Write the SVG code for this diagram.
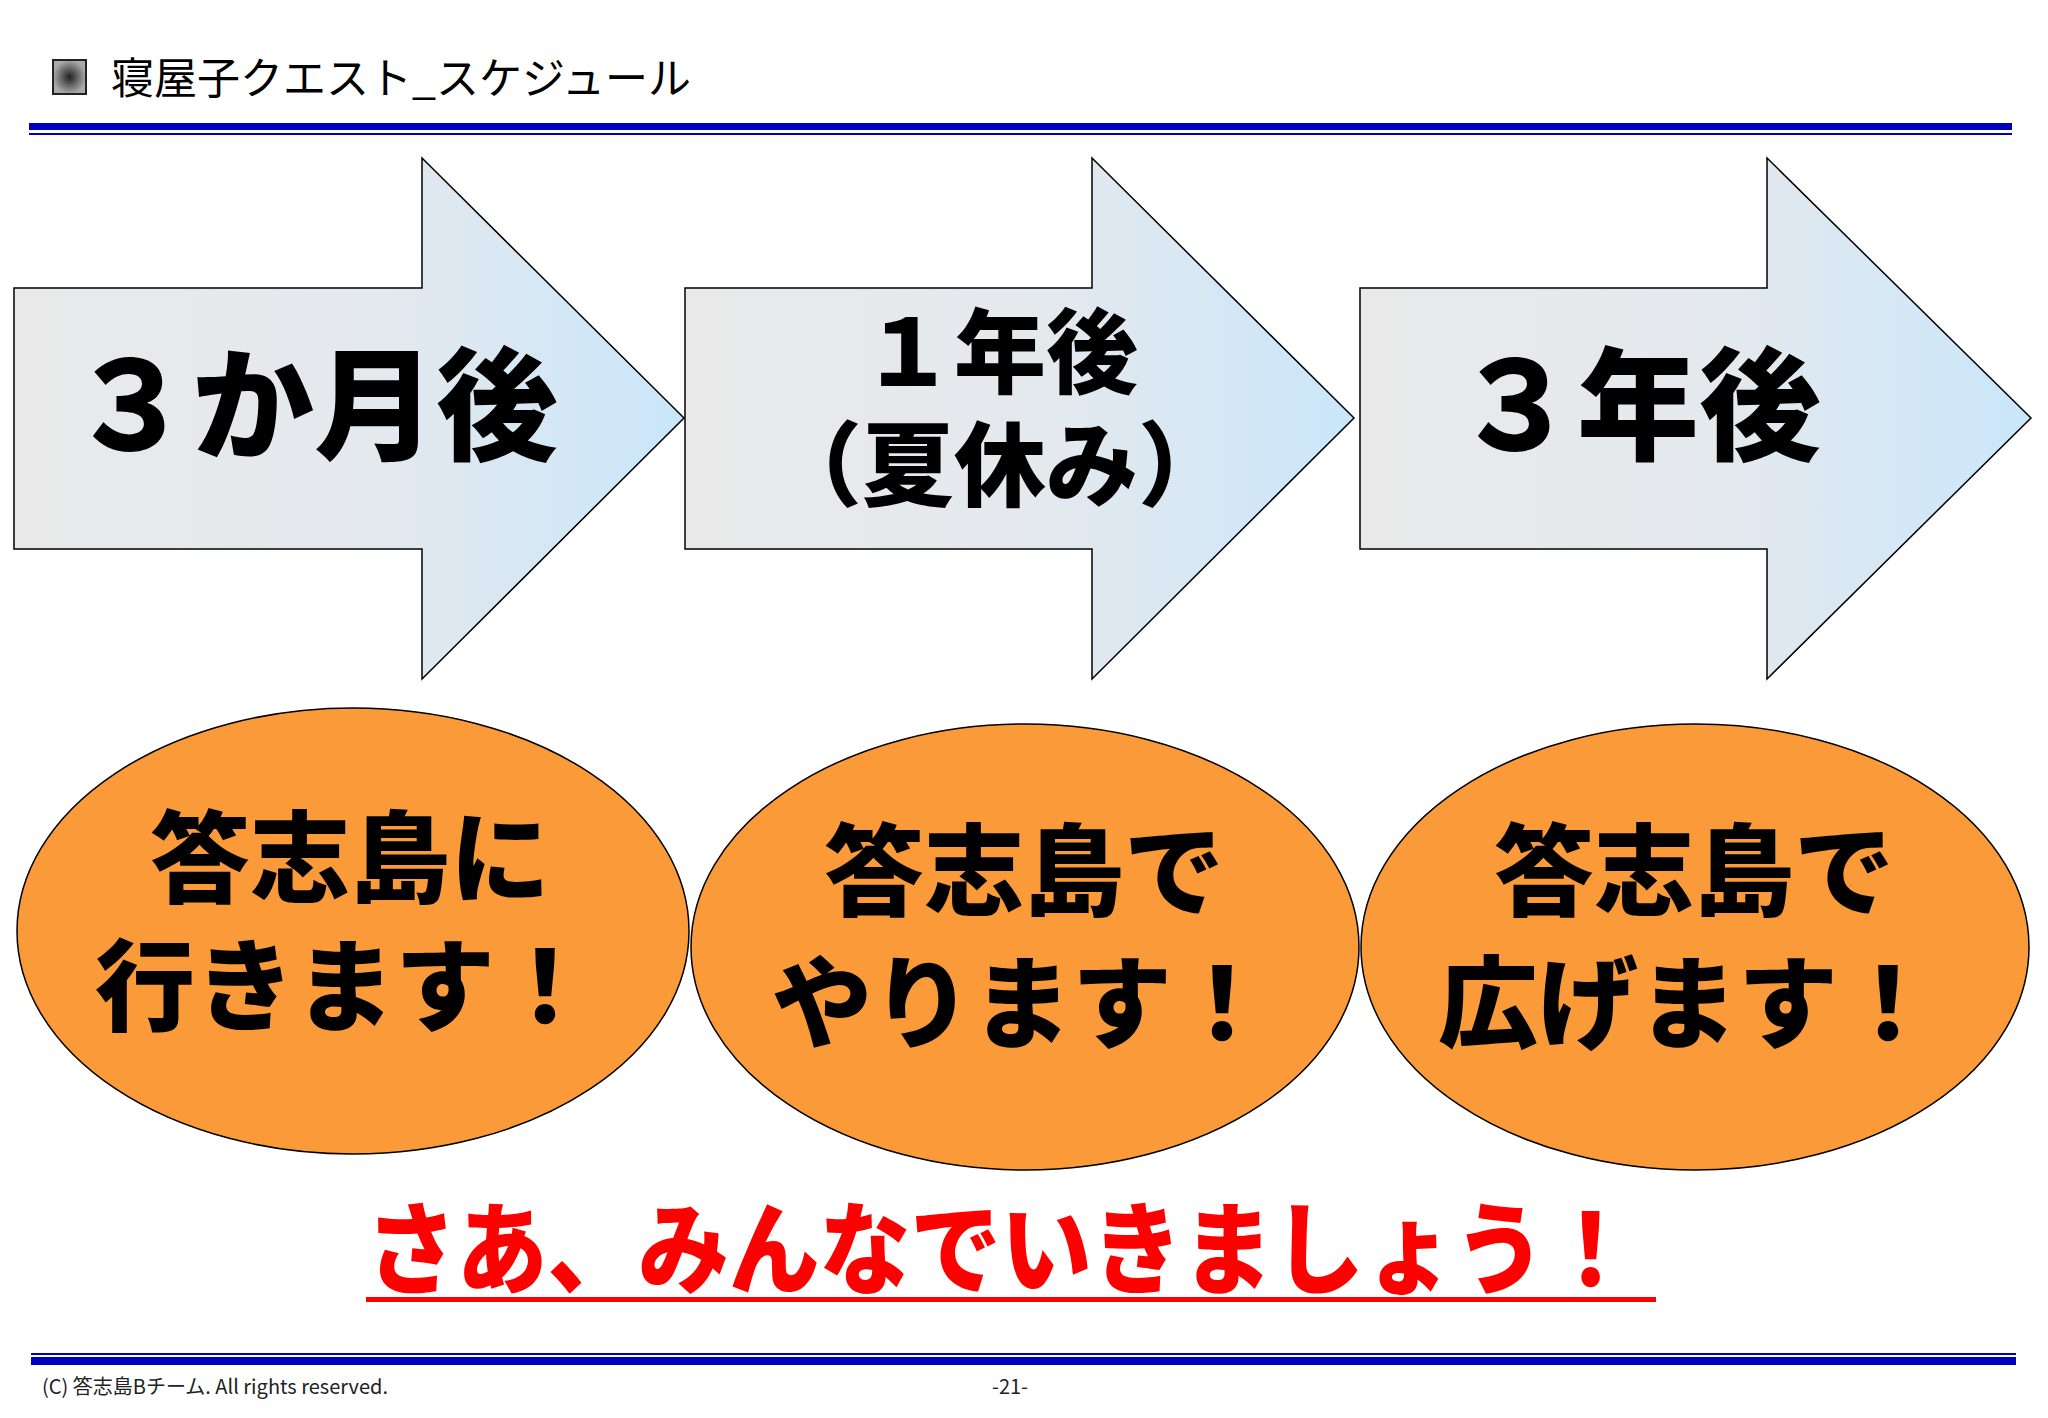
<svg xmlns="http://www.w3.org/2000/svg" width="2048" height="1418" viewBox="0 0 2048 1418">
<style>
.jp{font-family:"Noto Sans CJK JP","Liberation Sans",sans-serif}
.big{font-weight:900;fill:#000;text-anchor:middle}
.arr{stroke:#000;stroke-width:1.5}
.ell{fill:#fb9a38;stroke:#000;stroke-width:1.5}
</style>
<defs>
<linearGradient id="g" x1="0" y1="0" x2="1" y2="0">
<stop offset="0" stop-color="#e9e9e9"/><stop offset="0.55" stop-color="#e4e9ee"/><stop offset="1" stop-color="#c9e6fa"/>
</linearGradient>
<radialGradient id="sq"><stop offset="0" stop-color="#222"/><stop offset="1" stop-color="#aaa"/></radialGradient>
</defs>
<rect width="2048" height="1418" fill="#fff"/>
<g id="header">
<rect x="53" y="60" width="33" height="34" fill="url(#sq)" stroke="#222" stroke-width="2"/>
<text x="111" y="94" class="jp" font-size="43">寝屋子クエスト_スケジュール</text>
<rect x="29" y="123" width="1983" height="7" fill="#0000c0"/>
<rect x="29" y="133" width="1983" height="2" fill="#0000c0"/>
</g>
<g id="arrow1"><polygon class="arr" fill="url(#g)" points="14,288 422,288 422,158 684,418 422,679 422,549 14,549"/>
<text x="314" y="450" class="jp big" font-size="122">３か月後</text></g>
<g id="arrow2"><polygon class="arr" fill="url(#g)" points="685,288 1092,288 1092,158 1354,418 1092,679 1092,549 685,549"/>
<text x="1000" y="386" class="jp big" font-size="92">１年後</text>
<text x="1000" y="499" class="jp big" font-size="92">（夏休み）</text></g>
<g id="arrow3"><polygon class="arr" fill="url(#g)" points="1360,288 1767,288 1767,158 2031,418 1767,679 1767,549 1360,549"/>
<text x="1638" y="450" class="jp big" font-size="122">３年後</text></g>
<g id="goal1"><ellipse class="ell" cx="353" cy="931" rx="336" ry="223"/>
<text x="350" y="895" class="jp big" font-size="100">答志島に</text>
<text x="345" y="1023" class="jp big" font-size="100">行きます！</text></g>
<g id="goal2"><ellipse class="ell" cx="1025" cy="947" rx="334" ry="223"/>
<text x="1024" y="908" class="jp big" font-size="100">答志島で</text>
<text x="1022" y="1040" class="jp big" font-size="100">やります！</text></g>
<g id="goal3"><ellipse class="ell" cx="1695" cy="947" rx="334" ry="223"/>
<text x="1694" y="908" class="jp big" font-size="100">答志島で</text>
<text x="1688" y="1040" class="jp big" font-size="100">広げます！</text></g>
<g id="slogan">
<text x="366" y="1286" class="jp" font-size="100" font-weight="900" fill="#ff0000" textLength="1270" lengthAdjust="spacingAndGlyphs">さあ、みんなでいきましょう！</text>
<rect x="366" y="1297" width="1290" height="5" fill="#ff0000"/>
</g>
<g id="footer">
<rect x="31" y="1353" width="1985" height="2" fill="#0000c0"/>
<rect x="31" y="1357" width="1985" height="8" fill="#0000c0"/>
<text x="42" y="1394" class="jp" font-size="20" fill="#222">(C) 答志島Bチーム. All rights reserved.</text>
<text x="1010" y="1394" class="jp" font-size="20" fill="#222" text-anchor="middle">-21-</text>
</g>
</svg>
